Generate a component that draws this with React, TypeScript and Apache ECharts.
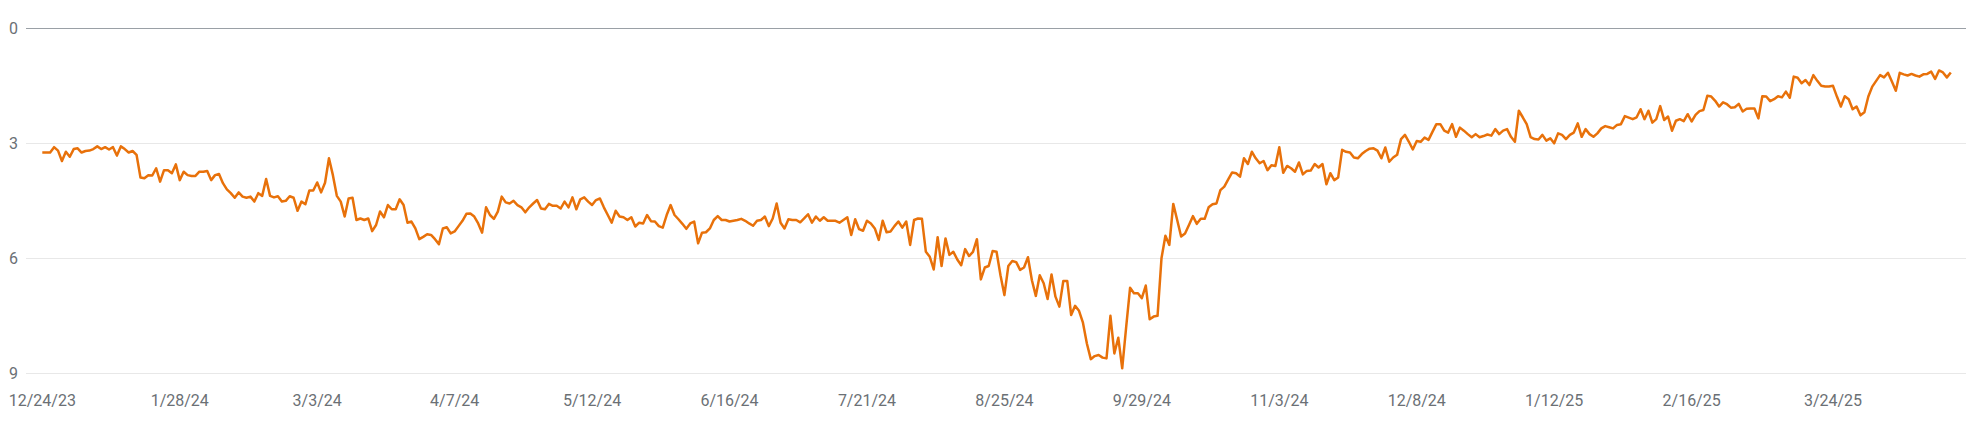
import { useEffect, useRef } from "react";
import * as echarts from "echarts";

const START = Date.UTC(2023, 11, 24);
const DAY = 86400000;

const X_TICK_LABELS = [
  "12/24/23", "1/28/24", "3/3/24", "4/7/24", "5/12/24", "6/16/24", "7/21/24",
  "8/25/24", "9/29/24", "11/3/24", "12/8/24", "1/12/25", "2/16/25", "3/24/25",
];
const Y_MIN = 0;
const Y_MAX = 9;
const Y_STEP = 3;

// Average position per day, 12/24/23 onward
const POS_DEC_FEB = [
  3.24, 3.24, 3.24, 3.10, 3.19, 3.46, 3.22, 3.35, 3.15, 3.13,
  3.24, 3.20, 3.19, 3.15, 3.08, 3.15, 3.10, 3.16, 3.10, 3.32,
  3.08, 3.15, 3.24, 3.20, 3.30, 3.89, 3.91, 3.83, 3.84, 3.65,
  4.00, 3.70, 3.70, 3.78, 3.55, 3.96, 3.74, 3.83, 3.85, 3.85,
  3.74, 3.74, 3.72, 3.96, 3.83, 3.80, 4.04, 4.20, 4.30, 4.42,
  4.28, 4.39, 4.42, 4.39, 4.52, 4.30, 4.37, 3.93, 4.37, 4.41,
  4.38, 4.52, 4.50, 4.38, 4.42, 4.76, 4.52, 4.59, 4.23, 4.23,
];
const POS_MAR_MAY = [
  4.02, 4.28, 4.03, 3.39, 3.83, 4.37, 4.52, 4.91, 4.44, 4.42,
  5.00, 4.96, 5.00, 4.96, 5.29, 5.13, 4.78, 4.93, 4.61, 4.72,
  4.72, 4.46, 4.61, 5.07, 5.04, 5.22, 5.50, 5.44, 5.37, 5.39,
  5.50, 5.63, 5.22, 5.19, 5.35, 5.30, 5.16, 5.02, 4.84, 4.83,
  4.91, 5.09, 5.33, 4.67, 4.87, 4.97, 4.78, 4.39, 4.54, 4.57,
  4.50, 4.61, 4.67, 4.80, 4.67, 4.57, 4.48, 4.70, 4.72, 4.58,
  4.63, 4.63, 4.70, 4.52, 4.67, 4.41, 4.72, 4.46, 4.41, 4.52,
];
const POS_MAY_JUL = [
  4.61, 4.48, 4.44, 4.67, 4.87, 5.07, 4.76, 4.91, 4.93, 5.00,
  4.93, 5.17, 5.07, 5.09, 4.87, 5.03, 5.04, 5.16, 5.20, 4.87,
  4.61, 4.87, 4.98, 5.10, 5.23, 5.09, 5.04, 5.61, 5.33, 5.32,
  5.22, 5.00, 4.90, 5.00, 5.00, 5.04, 5.02, 5.00, 4.97, 5.02,
  5.09, 5.15, 5.02, 5.00, 4.91, 5.16, 4.96, 4.57, 5.07, 5.22,
  4.98, 5.00, 5.00, 5.06, 4.96, 4.85, 5.07, 4.91, 5.02, 4.93,
  5.02, 5.02, 5.02, 5.07, 5.00, 4.93, 5.39, 4.98, 5.24, 5.28,
];
const POS_JUL_OCT = [
  5.02, 5.09, 5.22, 5.52, 5.02, 5.32, 5.30, 5.16, 5.04, 5.20,
  5.04, 5.65, 5.00, 4.96, 4.97, 5.83, 5.96, 6.29, 5.45, 6.20,
  5.48, 5.91, 5.83, 6.03, 6.18, 5.76, 5.94, 5.83, 5.50, 6.55,
  6.24, 6.20, 5.81, 5.83, 6.44, 6.96, 6.20, 6.07, 6.10, 6.30,
  6.24, 5.97, 6.57, 6.98, 6.44, 6.65, 7.06, 6.42, 7.00, 7.26,
  6.59, 6.59, 7.48, 7.24, 7.37, 7.68, 8.22, 8.63, 8.55, 8.52,
  8.59, 8.61, 7.50, 8.48, 8.07, 8.87, 7.80, 6.77, 6.91, 6.91,
];
const POS_OCT_DEC = [
  7.04, 6.71, 7.59, 7.52, 7.50, 6.00, 5.41, 5.65, 4.58, 5.00,
  5.43, 5.35, 5.13, 4.90, 5.10, 4.97, 4.97, 4.67, 4.59, 4.57,
  4.22, 4.13, 3.94, 3.76, 3.78, 3.87, 3.39, 3.54, 3.22, 3.39,
  3.52, 3.46, 3.70, 3.57, 3.59, 3.10, 3.77, 3.59, 3.65, 3.74,
  3.50, 3.81, 3.72, 3.71, 3.54, 3.63, 3.54, 4.07, 3.78, 3.96,
  3.89, 3.17, 3.22, 3.24, 3.37, 3.39, 3.28, 3.20, 3.14, 3.13,
  3.19, 3.39, 3.11, 3.48, 3.37, 3.30, 2.89, 2.78, 2.96, 3.16,
];
const POS_DEC_FEB25 = [
  2.94, 2.96, 2.85, 2.91, 2.70, 2.50, 2.50, 2.67, 2.72, 2.50,
  2.83, 2.59, 2.67, 2.76, 2.84, 2.76, 2.84, 2.81, 2.77, 2.80,
  2.63, 2.76, 2.67, 2.63, 2.83, 2.96, 2.15, 2.32, 2.50, 2.84,
  2.89, 2.90, 2.78, 2.93, 2.87, 3.00, 2.74, 2.78, 2.89, 2.78,
  2.72, 2.48, 2.83, 2.63, 2.76, 2.83, 2.74, 2.61, 2.55, 2.58,
  2.61, 2.52, 2.50, 2.29, 2.33, 2.37, 2.32, 2.11, 2.37, 2.15,
  2.46, 2.37, 2.03, 2.39, 2.30, 2.67, 2.41, 2.37, 2.42, 2.24,
];
const POS_FEB_APR25 = [
  2.43, 2.26, 2.16, 2.13, 1.76, 1.78, 1.89, 2.04, 1.93, 1.98,
  2.07, 2.06, 1.97, 2.17, 2.10, 2.09, 2.09, 2.35, 1.77, 1.78,
  1.90, 1.85, 1.77, 1.80, 1.65, 1.81, 1.26, 1.29, 1.43, 1.35,
  1.48, 1.22, 1.37, 1.50, 1.52, 1.52, 1.50, 1.78, 2.04, 1.77,
  1.85, 2.11, 2.04, 2.27, 2.19, 1.78, 1.52, 1.37, 1.22, 1.28,
  1.16, 1.39, 1.63, 1.16, 1.20, 1.23, 1.19, 1.23, 1.26, 1.20,
  1.19, 1.13, 1.32, 1.10, 1.15, 1.28, 1.15,
];

const POSITIONS = [
  ...POS_DEC_FEB, ...POS_MAR_MAY, ...POS_MAY_JUL, ...POS_JUL_OCT,
  ...POS_OCT_DEC, ...POS_DEC_FEB25, ...POS_FEB_APR25,
];

function dayLabel(i: number): string {
  const d = new Date(START + Math.round(i) * DAY);
  return `${d.getUTCMonth() + 1}/${d.getUTCDate()}/${String(d.getUTCFullYear()).slice(2)}`;
}
function labelToDay(s: string): number {
  const [m, d, y] = s.split("/").map(Number);
  return Math.round((Date.UTC(2000 + y, m - 1, d) - START) / DAY);
}

const FONT = "Roboto, 'Noto Sans', Arial, sans-serif";
const TEXT = "#6b7075";

export default function App() {
  const ref = useRef<HTMLDivElement>(null);
  useEffect(() => {
    if (!ref.current) return;
    const chart = echarts.init(ref.current, undefined, { renderer: "svg" });
    const tickDays = X_TICK_LABELS.map(labelToDay);
    const labelMap: Record<number, string> = {};
    X_TICK_LABELS.forEach((s, k) => (labelMap[tickDays[k]] = s));
    chart.setOption({
      animation: false,
      grid: { left: 26, right: 0, top: 28.33, bottom: 64.67, containLabel: false },
      xAxis: {
        type: "value",
        min: -4.15,
        max: 489.87,
        axisLine: { show: false },
        axisTick: { show: false },
        splitLine: { show: false },
        axisLabel: {
          customValues: tickDays,
          formatter: (v: number) => labelMap[Math.round(v)] ?? dayLabel(v),
          margin: 19,
          fontSize: 16,
          color: TEXT,
          fontFamily: FONT,
        },
      },
      yAxis: {
        type: "value",
        inverse: true,
        min: Y_MIN,
        max: Y_MAX,
        interval: Y_STEP,
        axisLine: { show: false },
        axisTick: { show: false },
        axisLabel: {
          align: "left",
          margin: 17,
          fontSize: 16,
          color: TEXT,
          fontFamily: FONT,
        },
        splitLine: {
          lineStyle: { color: ["#9aa0a6", "#e8e8e8", "#e8e8e8", "#e8e8e8"], width: 1 },
        },
      },
      series: [
        {
          type: "line",
          data: POSITIONS.map((v, i) => [i, v]),
          showSymbol: false,
          symbol: "none",
          lineStyle: { color: "#e8710a", width: 2.5, join: "round" },
          itemStyle: { color: "#e8710a" },
        },
      ],
    });
    return () => chart.dispose();
  }, []);
  return (
    <div
      ref={ref}
      style={{ position: "fixed", left: 0, top: 0, width: 1966, height: 438, background: "#fff" }}
    />
  );
}
